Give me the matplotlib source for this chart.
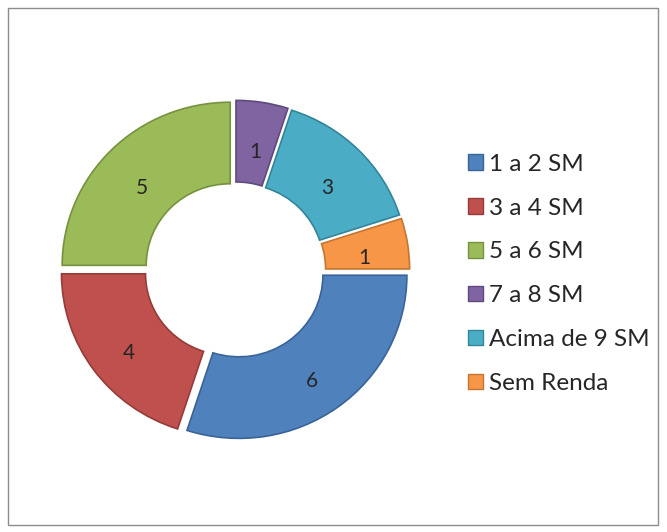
from matplotlib import pyplot as plt
from matplotlib.patches import Patch, Rectangle

categories = ['1 a 2 SM', '3 a 4 SM', '5 a 6 SM', '7 a 8 SM', 'Acima de 9 SM', 'Sem Renda']
values = [6, 4, 5, 1, 3, 1]
colors = ['#4F81BD', '#C0504D', '#9BBB59', '#8064A2', '#4BACC6', '#F79646']
edges = ['#3A6397', '#943C3A', '#76913F', '#5F4A7C', '#338599', '#C57530']

plt.rcParams['font.family'] = ['Lato', 'DejaVu Sans']

fig = plt.figure(figsize=[6.67, 5.32], dpi=100)
fig.patches.append(Rectangle((0.012, 0.013), 0.975, 0.972, transform=fig.transFigure,
                             fill=False, edgecolor='#8c8c8c', linewidth=1))

# ring is slightly squashed vertically in the reference
ax = fig.add_axes([0.05, 0.1246, 0.6045, 0.7359])
total = sum(values)
wedges, texts, autotexts = ax.pie(
    values, startangle=0, counterclock=False, explode=[0.04] * len(values),
    colors=colors, radius=1.0, pctdistance=0.74,
    autopct=lambda p: f'{p * total / 100:.0f}',
    wedgeprops=dict(width=0.5, linewidth=1.2),
    textprops=dict(fontsize=15, color='#262626'))
for w, ec in zip(wedges, edges):
    w.set_edgecolor(ec)
for t in autotexts:
    t.set_y(t.get_position()[1] - 0.05)
ax.set_xlim(-1.2, 1.2)
ax.set_ylim(-1.2, 1.2)
ax.set_aspect('auto')

handles = [Patch(facecolor=c, edgecolor=e) for c, e in zip(colors, edges)]
fig.legend(handles, categories, loc='upper left', bbox_to_anchor=(0.702, 0.711),
           frameon=False, fontsize=17.5, handlelength=0.6, handleheight=0.6,
           handletextpad=0.25, labelspacing=0.94, labelcolor='#262626',
           borderaxespad=0, borderpad=0)

plt.savefig('out.png', dpi=100)
